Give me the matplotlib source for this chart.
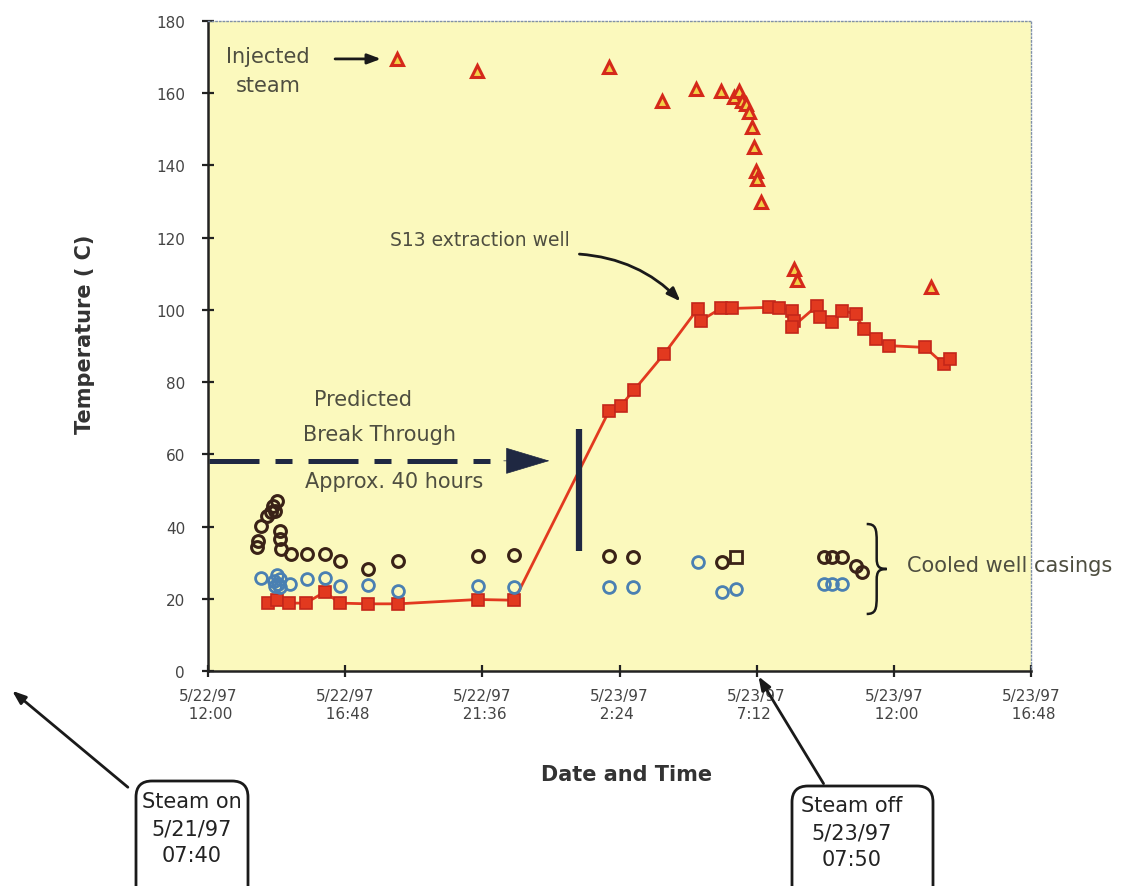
import numpy as np
import matplotlib.pyplot as plt
from matplotlib.patches import FancyBboxPatch, FancyArrowPatch, PathPatch
from matplotlib.path import Path

plt.rcParams['font.family'] = 'DejaVu Sans'

# ── Data: hours after 5/22/97 12:00, temperature in C ───────────
s13_hours = [2.11, 2.40, 2.84, 3.42, 4.09, 4.61, 5.60, 6.65, 9.44, 10.72,
             14.04, 14.45, 14.91, 15.96, 17.13, 17.24, 17.94, 18.35, 19.63,
             19.98, 20.44, 20.50, 20.44, 21.32, 21.43, 21.84, 22.19, 22.66,
             22.95, 23.36, 23.82, 25.10, 25.74, 25.98]
s13_temp = [18.8, 19.7, 18.8, 18.8, 21.9, 18.8, 18.6, 18.6, 19.8, 19.6,
            72.1, 73.5, 77.8, 87.8, 100.2, 97.0, 100.4, 100.4, 100.7,
            100.4, 99.8, 97.0, 95.2, 101.2, 98.0, 96.6, 99.8, 98.9,
            94.7, 91.9, 90.1, 89.6, 85.0, 86.4]

steam_hours = [6.60, 9.40, 14.02, 15.90, 17.07, 17.94, 18.41, 18.58, 18.70,
               18.81, 18.93, 19.05, 19.11, 19.16, 19.22, 19.34, 20.50, 20.61,
               25.29]
steam_temp = [169.5, 166.2, 167.2, 157.9, 161.2, 160.7, 158.9, 160.7, 157.9,
              157.0, 154.7, 150.6, 145.0, 138.5, 136.3, 129.8, 111.3, 108.3,
              106.3]

casing_a_hours = [1.70, 1.76, 1.87, 2.05, 2.22, 2.34, 2.40, 2.28, 2.51, 2.51,
                  2.57, 2.92, 3.45, 4.09, 4.61, 5.60, 6.65, 9.44, 10.72,
                  14.02, 14.86, 18.00, 21.54, 21.84, 22.19, 22.66, 22.89]
casing_a_temp = [34.3, 36.1, 40.2, 43.0, 43.9, 44.4, 47.2, 45.8, 38.9, 36.6,
                 33.8, 32.4, 32.4, 32.4, 30.5, 28.2, 30.5, 31.9, 32.1,
                 31.9, 31.5, 30.1, 31.5, 31.5, 31.5, 29.2, 27.3]
casing_a_sq_hours = [18.47]
casing_a_sq_temp = [31.5]

casing_b_hours = [1.87, 2.30, 2.36, 2.40, 2.45, 2.51, 2.52, 2.86, 3.45, 4.09,
                  4.61, 5.60, 6.65, 9.44, 10.72, 14.02, 14.86, 17.13, 18.00,
                  18.47, 21.54, 21.84, 22.19]
casing_b_temp = [25.7, 25.0, 23.5, 26.5, 24.0, 23.2, 25.5, 24.1, 25.5, 25.7,
                 23.6, 23.8, 22.2, 23.6, 23.2, 23.2, 23.2, 30.1, 21.8,
                 22.7, 24.1, 24.1, 24.1]

x_ticks = [0, 4.8, 9.6, 14.4, 19.2, 24.0, 28.8]
x_labels = ['5/22/97\n  12:00', '5/22/97\n  16:48', '5/22/97\n  21:36',
            '5/23/97\n  2:24', '5/23/97\n  7:12', '5/23/97\n  12:00',
            '5/23/97\n  16:48']
y_ticks = list(range(0, 181, 20))

# ── Colours ─────────────────────────────────────────────────────
BG = '#fbf9bd'
RED = '#e2391f'
RED_EDGE = '#c4261a'
BROWN = '#3a2217'
BLUE = '#4a80b2'
NAVY = '#1f2842'
TXT = '#4e4e40'

fig = plt.figure(figsize=(11.38, 8.87), dpi=100)
ax = fig.add_axes([208 / 1138, 1 - 672 / 887, 823 / 1138, 650 / 887])
ax.set_facecolor(BG)

# S13 extraction well
ax.plot(s13_hours, s13_temp, color=RED, lw=2, zorder=3)
ax.plot(s13_hours, s13_temp, ls='none', marker='s', ms=9, mfc=RED,
        mec=RED_EDGE, mew=1.2, zorder=4)

# injected steam
ax.plot(steam_hours, steam_temp, ls='none', marker='^', ms=9, mfc='#f3cf48',
        mec='#d5291a', mew=2.2, zorder=4)

# well casings
ax.plot(casing_a_hours, casing_a_temp, ls='none', marker='o', ms=8.5,
        mfc='none', mec=BROWN, mew=2.2, zorder=4)
ax.plot(casing_a_sq_hours, casing_a_sq_temp, ls='none', marker='s', ms=8,
        mfc='none', mec=BROWN, mew=2, zorder=4)
ax.plot(casing_b_hours, casing_b_temp, ls='none', marker='o', ms=8.5,
        mfc='none', mec=BLUE, mew=2, zorder=4)

ax.set_xlim(0, 28.8)
ax.set_ylim(0, 180)
ax.set_xticks(x_ticks)
ax.set_xticklabels(x_labels, multialignment='left')
ax.set_yticks(y_ticks)
ax.tick_params(direction='inout', length=9, width=1.6, colors='#222222',
               labelcolor='#444444', labelsize=11)
ax.tick_params(axis='x', pad=8)
ax.tick_params(axis='y', pad=12)

for side in ('left', 'bottom'):
    ax.spines[side].set_linewidth(1.8)
    ax.spines[side].set_color('#222222')
for side in ('top', 'right'):
    ax.spines[side].set_linewidth(1)
    ax.spines[side].set_color('#8090a8')
    ax.spines[side].set_linestyle(':')

ax.set_xlabel('Date and Time', fontsize=15, fontweight='bold', color='#333333')
ax.xaxis.set_label_coords(0.508, -0.143)
ax.set_ylabel('Temperature ( C)', fontsize=15, fontweight='bold', color='#333333')
ax.yaxis.set_label_coords(-0.137, 0.52)

# ── Annotations inside the plot ─────────────────────────────────
ax.text(2.1, 166.2, 'Injected\nsteam', fontsize=15, color=TXT, ha='center',
        va='center', linespacing=1.55)
ax.annotate('', xy=(6.15, 169.5), xytext=(4.35, 169.5),
            arrowprops=dict(arrowstyle='-|>,head_length=0.8,head_width=0.3',
                            color='#1a1a1a', lw=2))

ax.text(9.5, 119.4, 'S13 extraction well', fontsize=13.5, color=TXT,
        ha='center', va='center')
ax.annotate('', xy=(16.6, 101.8), xytext=(12.9, 115.5),
            arrowprops=dict(arrowstyle='-|>,head_length=0.8,head_width=0.3',
                            color='#1a1a1a', lw=2,
                            connectionstyle='arc3,rad=-0.2'))

ax.text(5.41, 75.3, 'Predicted', fontsize=15, color=TXT, ha='center',
        va='center')
ax.text(6.0, 65.6, 'Break Through', fontsize=15, color=TXT, ha='center',
        va='center')
ax.text(6.53, 52.7, 'Approx. 40 hours', fontsize=15, color=TXT, ha='center',
        va='center')

# predicted break-through dashed arrow and marker bar
ax.plot([0.05, 10.4], [58.2, 58.2], color=NAVY, lw=3.6,
        ls=(0, (10, 3.2, 3.4, 3.2)), clip_on=False, zorder=5)
ax.annotate('', xy=(11.95, 58.2), xytext=(10.35, 58.2),
            arrowprops=dict(arrowstyle='-|>,head_length=1.2,head_width=0.36',
                            mutation_scale=25, color=NAVY, lw=0.5,
                            shrinkA=0, shrinkB=0))
ax.plot([13.0, 13.0], [33.2, 67.0], color=NAVY, lw=4.5, zorder=5,
        solid_capstyle='butt')

# curly brace for the well casing readings
bx0, bx1, by0, by1 = 23.05, 23.75, 15.8, 40.7
u = np.array([0, 0.45, 0.5, 0.5, 0.5, 0.5, 0.6, 1.0, 0.6, 0.5, 0.5, 0.5,
              0.5, 0.45, 0])
v = np.array([1, 1, 0.95, 0.8, 0.62, 0.53, 0.5, 0.5, 0.5, 0.47, 0.38, 0.2,
              0.05, 0, 0])
codes = [Path.MOVETO, Path.CURVE4, Path.CURVE4, Path.CURVE4, Path.LINETO,
         Path.CURVE4, Path.CURVE4, Path.CURVE4, Path.CURVE4, Path.CURVE4,
         Path.CURVE4, Path.LINETO, Path.CURVE4, Path.CURVE4, Path.CURVE4]
verts = np.column_stack([bx0 + u * (bx1 - bx0), by0 + v * (by1 - by0)])
ax.add_patch(PathPatch(Path(verts, codes), fc='none', ec='#1a1a1a', lw=1.8,
                       zorder=5))
ax.text(24.45, 29.4, 'Cooled well casings', fontsize=15, color=TXT,
        ha='left', va='center', clip_on=False)

# ── Steam on / off call-outs below the axes ─────────────────────
tr = fig.dpi_scale_trans
callouts = [(1.36, 1.12, 1.25, 'Steam on\n5/21/97\n07:40', 1.92, 0.95),
            (7.92, 1.41, 1.20, 'Steam off\n5/23/97\n07:50', 8.52, 0.91)]
for x0, w, h, lines, xc, yt in callouts:
    fig.add_artist(FancyBboxPatch((x0, -0.2), w, h,
                                  boxstyle='round,pad=0,rounding_size=0.16',
                                  transform=tr, fc='white', ec='#1a1a1a',
                                  lw=2))
    fig.text(xc, yt, lines, transform=tr, fontsize=15, color='#222222',
             ha='center', va='top', linespacing=1.45)

fig.add_artist(FancyArrowPatch((1.30, 0.97), (0.10, 1.97), transform=tr,
                               arrowstyle='-|>,head_length=8,head_width=3',
                               color='#1a1a1a', lw=2))
fig.add_artist(FancyArrowPatch((8.25, 1.00), (7.57, 2.12), transform=tr,
                               arrowstyle='-|>,head_length=8,head_width=3',
                               color='#1a1a1a', lw=2))

fig.savefig('out.png', dpi=100, facecolor='white')
